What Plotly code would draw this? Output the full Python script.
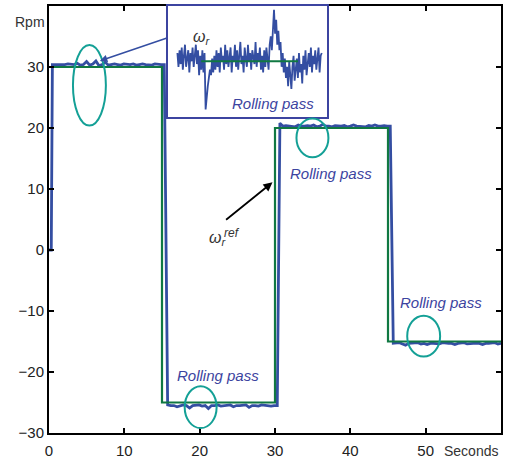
import numpy as np
import plotly.graph_objects as go

# reference speed (step command)
ref_t = [0, 15, 30, 45, 60]
ref_w = [30, -25, 20, -15, -15]

# measured speed, one list per plateau (rpm)
p30 = [30.4, 30.4, 30.4, 30.3, 30.4, 30.5, 30.4, 30.4, 30.6, 30.3, 30.4, 30.9, 30.3, 30.5,
       31.0, 30.2, 30.4, 30.8, 30.3, 30.4, 30.5, 30.4, 30.3, 30.5, 30.4, 30.4, 30.5, 30.3,
       30.4, 30.5, 30.4, 30.4, 30.3, 30.5, 30.4, 30.4, 30.4]
m25 = [-25.4, -25.5, -25.5, -25.7, -25.5, -25.4, -25.5, -25.9, -25.5, -25.5, -25.4, -25.6,
       -25.5, -26.0, -25.5, -25.5, -25.4, -25.6, -25.5, -25.5, -25.4, -25.7, -25.5, -25.5,
       -25.5, -25.4, -25.8, -25.5, -25.5, -25.6, -25.4, -25.5, -25.5, -25.6, -25.5, -25.5]
p20 = [20.8, 20.3, 20.4, 20.3, 20.3, 20.2, 20.5, 20.3, 20.3, 20.4, 20.3, 20.5, 20.2, 20.3,
       20.6, 20.3, 20.3, 20.2, 20.4, 20.3, 20.3, 20.4, 20.2, 20.3, 20.5, 20.3, 20.3, 20.3,
       20.2, 20.4, 20.3, 20.5, 20.3, 20.3, 20.4, 20.3, 20.3]
m15 = [-15.3, -15.3, -15.2, -15.4, -15.6, -15.3, -15.3, -15.3, -15.2, -15.4, -15.3, -15.5,
       -15.3, -15.3, -15.3, -15.4, -15.2, -15.3, -15.3, -15.3, -15.5, -15.3, -15.3, -15.2,
       -15.4, -15.3, -15.3, -15.3, -15.3, -15.5, -15.3, -15.3, -15.3, -15.2, -15.4, -15.3]
# start / end time of each plateau (s)
plateau_spans = [(0.45, 15.3), (15.75, 30.3), (30.65, 45.3), (45.7, 60.0)]

# zoomed view of omega_r during a rolling pass (deviation, normalised)
inset_w = [0.15, -0.1, 0.2, -0.05, 0.25, -0.15, 0.1, 0.3, -0.1, 0.05, 0.2, -0.2, 0.15, 0.0,
           0.25, -0.1, 0.1, 0.3, -0.05, 0.2, -0.25, 0.1, -0.15, 0.2, -0.2, 0.15,
           -0.87, -0.6, -0.45, -0.3, -0.15, -0.25, 0.05, -0.2, 0.1, -0.15,
           0.2, -0.1, 0.15, -0.2, 0.25, 0.0, 0.1, -0.15, 0.3, -0.05, 0.2, -0.1, 0.15, 0.25,
           -0.2, 0.1, 0.0, 0.3, -0.1, 0.2, -0.15, 0.15, 0.35, -0.05, 0.1, -0.2, 0.25, 0.05,
           -0.1, 0.3, 0.0, 0.15, -0.15, 0.2, 0.1, -0.05, 0.35, -0.1, 0.15, 0.0, 0.25, -0.15,
           0.1, -0.2, 0.2, -0.1, 0.25, 0.0, -0.15, 0.3, 0.45, 0.2, 0.6,
           0.93, 0.5, 0.75, 0.3, 0.55, 0.2, 0.35, -0.1, 0.15,
           -0.2, 0.05, -0.3, -0.1, -0.45, 0.0, -0.25, -0.5, -0.1, 0.1, -0.35, -0.15, 0.05,
           -0.3, 0.15, -0.2, -0.05, -0.4, 0.1, -0.15, 0.2, -0.25, 0.0, 0.15, -0.1, 0.25,
           -0.2, 0.1, -0.05, 0.2, -0.15, 0.05, 0.25, -0.2, 0.1, 0.15]
inset_ref = [0, 0]

BLUE = "rgb(52,78,162)"
GREEN = "rgb(16,120,66)"
TEAL = "rgb(20,160,150)"
TXT_BLUE = "rgb(60,68,160)"

meas_t = [0.0, 0.3]
meas_w = [0.0, 0.0]
for (t0, t1), vals in zip(plateau_spans, [p30, m25, p20, m15]):
    meas_t += list(np.linspace(t0, t1, len(vals)))
    meas_w += vals

inset_x = np.linspace(6, 97, len(inset_w))

fig = go.Figure()
fig.add_trace(go.Scatter(x=meas_t, y=meas_w, mode="lines",
                         line=dict(color=BLUE, width=2.8), showlegend=False))
fig.add_trace(go.Scatter(x=ref_t, y=ref_w, mode="lines", line_shape="hv",
                         line=dict(color=GREEN, width=2.2), showlegend=False))
fig.add_trace(go.Scatter(x=inset_x, y=inset_w, mode="lines", xaxis="x2", yaxis="y2",
                         line=dict(color=BLUE, width=1.8), showlegend=False))
fig.add_trace(go.Scatter(x=[21, 82], y=inset_ref, mode="lines", xaxis="x2", yaxis="y2",
                         line=dict(color=GREEN, width=2), showlegend=False))

axis_style = dict(showline=True, linecolor="black", linewidth=2, mirror="ticks",
                  ticks="inside", ticklen=5, tickwidth=1.5, tickcolor="black",
                  showgrid=False, zeroline=False,
                  tickfont=dict(family="Liberation Sans, Arial", size=15, color="#222"))

fig.update_layout(
    width=507, height=463,
    margin=dict(l=49, r=4, t=6, b=25),
    paper_bgcolor="white", plot_bgcolor="white",
    xaxis=dict(range=[0, 60], tickvals=[0, 10, 20, 30, 40, 50], ticklabelstandoff=3,
               **axis_style),
    yaxis=dict(range=[-30, 40], tickvals=[-30, -20, -10, 0, 10, 20, 30, 40],
               ticktext=["\u221230", "\u221220", "\u221210", "0", "10", "20", "30", ""],
               **axis_style),
    xaxis2=dict(domain=[0.263, 0.614], anchor="y2", range=[0, 100], showline=True,
                mirror=True, linecolor=TXT_BLUE, linewidth=2, showticklabels=False,
                ticks="", showgrid=False, zeroline=False),
    yaxis2=dict(domain=[0.741, 1.0], anchor="x2", range=[-1, 1], showline=True,
                mirror=True, linecolor=TXT_BLUE, linewidth=2, showticklabels=False,
                ticks="", showgrid=False, zeroline=False),
)

# teal ellipses marking rolling passes
for x0, x1, y0, y1 in [(3.18, 7.55, 20.4, 33.6), (32.85, 37.09, 15.2, 21.55),
                       (18.01, 22.25, -29.2, -22.34), (47.55, 51.92, -17.47, -10.78)]:
    fig.add_shape(type="circle", xref="x", yref="y", x0=x0, x1=x1, y0=y0, y1=y1,
                  line=dict(color=TEAL, width=2))

font_txt = dict(family="Liberation Sans, Arial", size=15, color=TXT_BLUE)
for x, y in [(29.8, 24.0), (37.48, 12.6), (22.38, -20.5), (52.05, -8.6)]:
    fig.add_annotation(x=x, y=y, xref="x", yref="y", text="<i>Rolling pass</i>",
                       showarrow=False, font=font_txt)

lab_font = dict(family="Liberation Sans, Arial", size=14, color="#333")
fig.add_annotation(x=-0.042, y=0.963, xref="paper", yref="paper", text="Rpm",
                   xanchor="center", yanchor="middle", showarrow=False, font=lab_font)
fig.add_annotation(x=0.934, y=-0.042, xref="paper", yref="paper", text="Seconds",
                   xanchor="center", yanchor="middle", showarrow=False, font=lab_font)

sym_font = dict(family="Liberation Sans, Arial", size=16, color="#333")
fig.add_annotation(x=18.9, y=34.8, xref="x", yref="y", text="<i>\u03c9<sub>r</sub></i>",
                   xanchor="left", showarrow=False, font=sym_font)
fig.add_annotation(x=21.0, y=1.9, xref="x", yref="y", text="<i>\u03c9<sub>r</sub></i>",
                   xanchor="left", showarrow=False, font=sym_font)
fig.add_annotation(x=22.9, y=2.8, xref="x", yref="y", text="<i>ref</i>",
                   xanchor="left", showarrow=False,
                   font=dict(family="Liberation Sans, Arial", size=12, color="#333"))

# arrows
fig.add_annotation(x=6.75, y=31.0, ax=15.76, ay=34.8, xref="x", yref="y",
                   axref="x", ayref="y", text="", showarrow=True, arrowhead=2,
                   arrowsize=1, arrowwidth=1.5, arrowcolor=BLUE)
fig.add_annotation(x=29.67, y=11.1, ax=23.31, ay=4.75, xref="x", yref="y",
                   axref="x", ayref="y", text="", showarrow=True, arrowhead=2,
                   arrowsize=1, arrowwidth=1.8, arrowcolor="black")

# the page's default body margin would shift the chart by 8px
fig.write_html("out.html", config={"displayModeBar": False},
               post_script="document.body.style.margin='0';")
